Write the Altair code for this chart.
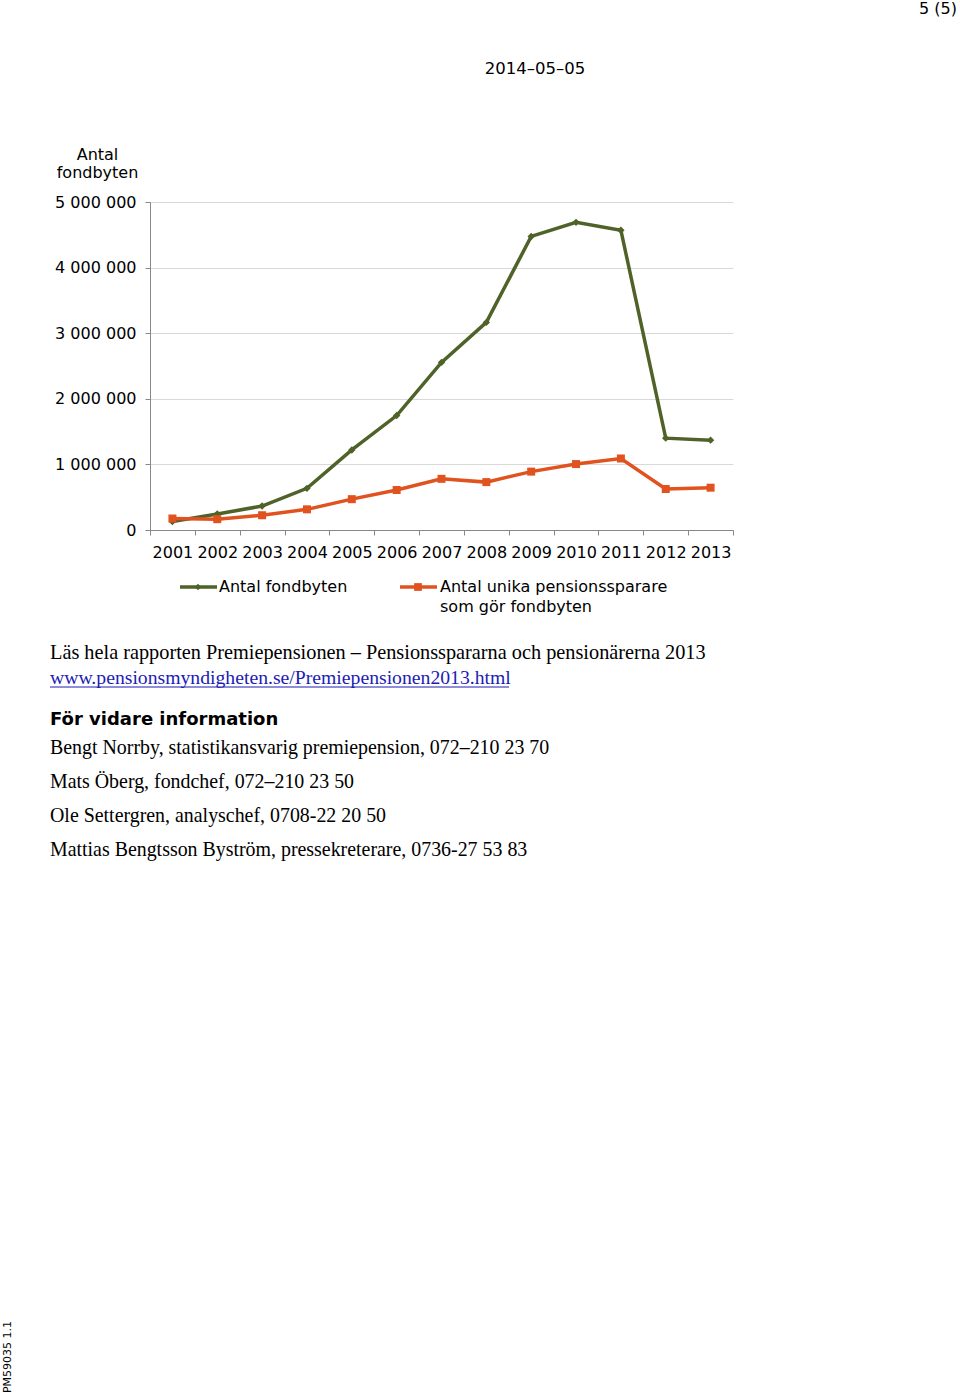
import altair as alt
import pandas as pd

years = [str(y) for y in range(2001, 2014)]
fondbyten = [130000, 245000, 365000, 635000, 1220000, 1745000, 2555000, 3165000,
             4475000, 4690000, 4570000, 1400000, 1370000]
unika = [175000, 165000, 225000, 315000, 470000, 610000, 780000, 730000,
         890000, 1005000, 1090000, 625000, 645000]
series_names = ["Antal fondbyten", "Antal unika pensionssparare som gör fondbyten"]
colors = ["#4F6228", "#E0521E"]
y_ticks = [0, 1000000, 2000000, 3000000, 4000000, 5000000]

page_number = "5 (5)"
date_text = "2014\u201305\u201305"
report_line = "Läs hela rapporten Premiepensionen \u2013 Pensionsspararna och pensionärerna 2013"
link_text = "www.pensionsmyndigheten.se/Premiepensionen2013.html"
info_head = "För vidare information"
contacts = [
    "Bengt Norrby, statistikansvarig premiepension, 072\u2013210 23 70",
    "Mats Öberg, fondchef, 072\u2013210 23 50",
    "Ole Settergren, analyschef, 0708-22 20 50",
    "Mattias Bengtsson Byström, pressekreterare, 0736-27 53 83",
]
footer_code = "PM59035 1.1"

df_g = pd.DataFrame({"year": years, "value": fondbyten, "series": series_names[0]})
df_o = pd.DataFrame({"year": years, "value": unika, "series": series_names[1]})

OX, OY = 150, 202  # plot origin in page coords
W, H = 583, 328
SANS = "DejaVu Sans"
SERIF = "Liberation Serif"

xenc = alt.X("year:O", scale=alt.Scale(type="band", paddingInner=0, paddingOuter=0),
             axis=alt.Axis(title=None, labelAngle=0, tickBand="extent", tickSize=5,
                           tickColor="#888888", domainColor="#888888", labelPadding=9,
                           labelFontSize=16, labelFont=SANS, labelColor="#000000",
                           grid=False))
yenc = alt.Y("value:Q", scale=alt.Scale(domain=[0, 5000000], nice=False),
             axis=alt.Axis(values=y_ticks, title=["Antal", "fondbyten"],
                           titleAngle=0, titleAlign="center", titleBaseline="alphabetic",
                           titleX=97 - OX, titleY=159 - OY, titleFont=SANS,
                           titleFontSize=16, titleFontWeight="normal", titleColor="#000000",
                           labelExpr="datum.value == 0 ? '0' : format(datum.value/1000000, 'd') + ' 000 000'",
                           labelFont=SANS, labelFontSize=16, labelColor="#000000",
                           labelPadding=9, tickSize=5, tickColor="#888888",
                           domainColor="#888888", gridColor="#D9D9D9", grid=True))

line_g = alt.Chart(df_g).mark_line(color=colors[0], strokeWidth=3.5).encode(x=xenc, y=yenc)
pt_g = alt.Chart(df_g).mark_point(shape="diamond", filled=True, color=colors[0], size=55,
                                  opacity=1).encode(x=xenc, y=yenc)
line_o = alt.Chart(df_o).mark_line(color=colors[1], strokeWidth=3.5).encode(x=xenc, y=yenc)
pt_o = alt.Chart(df_o).mark_point(shape="square", filled=True, color=colors[1], size=64,
                                  opacity=1).encode(x=xenc, y=yenc)

one = pd.DataFrame({"a": [0]})


def txt(text, x, y, font=SANS, size=16, align="left", weight="normal", color="#000000", angle=0):
    return alt.Chart(one).mark_text(text=text, font=font, fontSize=size, align=align,
                                    baseline="middle", fontWeight=weight, color=color,
                                    angle=angle).encode(x=alt.value(x - OX), y=alt.value(y - OY))


def rule(x1, x2, y, color, width):
    return alt.Chart(one).mark_rule(color=color, strokeWidth=width).encode(
        x=alt.value(x1 - OX), x2=alt.value(x2 - OX), y=alt.value(y - OY))


def sym(x, y, shape, color, size):
    return alt.Chart(one).mark_point(shape=shape, filled=True, color=color, size=size,
                                     opacity=1).encode(x=alt.value(x - OX), y=alt.value(y - OY))


legend = [
    rule(180, 217, 587, colors[0], 3.5), sym(198, 587, "diamond", colors[0], 45),
    txt(series_names[0], 219, 587),
    rule(400, 437, 587, colors[1], 3.5), sym(418, 587, "square", colors[1], 60),
    txt("Antal unika pensionssparare", 440, 587),
    txt("som gör fondbyten", 440, 607),
]

page = [
    txt(page_number, 957, 9, align="right"),
    txt(date_text, 535, 69, align="center", size=16.5),
    txt(report_line, 50, 653, font=SERIF, size=20.3),
    txt(link_text, 50, 678, font=SERIF, size=19.7, color="#1C1CB4"),
    rule(50, 509, 687, "#1C1CB4", 1),
    txt(info_head, 50, 720, weight="bold", size=18),
]
for i, c in enumerate(contacts):
    page.append(txt(c, 50, 748 + 34 * i, font=SERIF, size=19.9))
page.append(txt(footer_code, 8, 1357, size=11, align="center", angle=270))

chart = alt.layer(line_g, pt_g, line_o, pt_o, *legend, *page).properties(
    width=W, height=H,
    autosize=alt.AutoSizeParams(type="none"),
    padding={"left": OX, "top": OY, "right": 960 - OX - W, "bottom": 1395 - OY - H},
    background="#FFFFFF",
).configure_view(stroke=None)

chart.save("out.html", embed_options={"renderer": "svg", "actions": False})
